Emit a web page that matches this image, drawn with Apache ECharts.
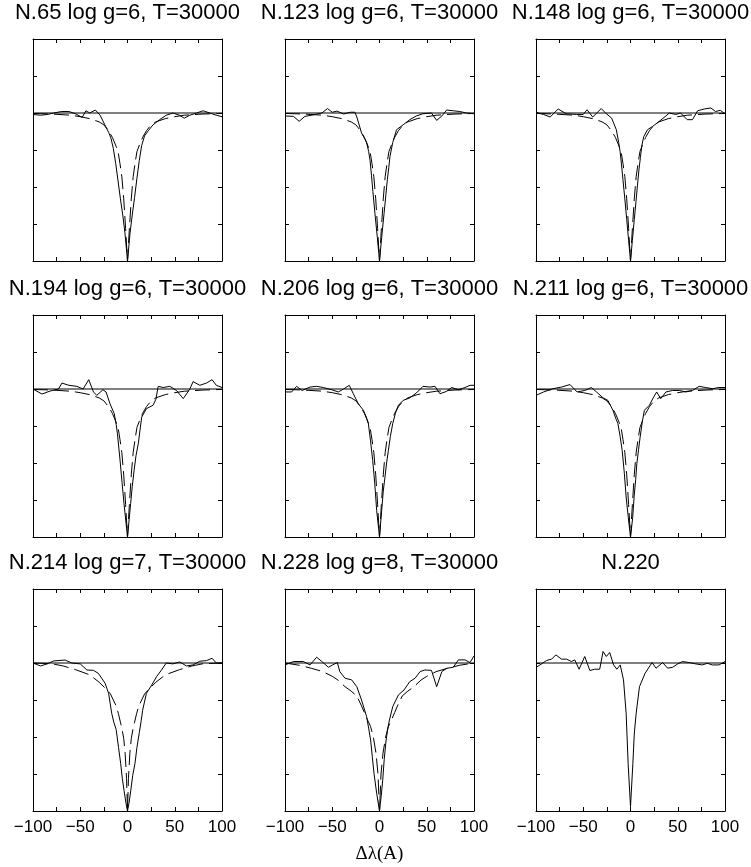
<!DOCTYPE html>
<html><head><meta charset="utf-8">
<script src="https://cdn.jsdelivr.net/npm/echarts@6/dist/echarts.min.js"></script>
<style>html,body{margin:0;padding:0;background:#fff}#c{width:751px;height:867px}</style>
</head><body><div id="c"></div>
<script>
// ---------- data ----------
const titles = ['N.65 log g=6, T=30000','N.123 log g=6, T=30000','N.148 log g=6, T=30000',
                'N.194 log g=6, T=30000','N.206 log g=6, T=30000','N.211 log g=6, T=30000',
                'N.214 log g=7, T=30000','N.228 log g=8, T=30000','N.220'];
const xTickLabels = [-100,-50,0,50,100];
const xAxisName = 'Δλ(A)';
const continuum = [[-100,1],[100,1]];

const modelG6 = [[-100,0.997],[-80,0.993],[-60,0.985],[-50,0.975],[-40,0.962],[-30,0.94],[-25,0.92],[-20,0.88],[-16,0.835],[-13,0.79],[-10,0.74],[-8,0.66],[-6,0.57],[-4,0.42],[-2,0.22],[0,0.0],
  [2,0.22],[4,0.42],[6,0.57],[8,0.66],[10,0.74],[13,0.79],[16,0.835],[20,0.88],[25,0.92],[30,0.94],[40,0.962],[50,0.975],[60,0.985],[80,0.993],[100,0.997]];
const modelG7 = [[-100,1.0],[-80,0.995],[-68,0.98],[-55,0.955],[-40,0.92],[-30,0.87],[-22,0.82],[-18,0.79],[-15,0.75],[-12,0.71],[-9.7,0.66],[-7.5,0.6],[-6,0.56],[-4,0.49],[-2.5,0.39],[-1,0.22],[0,0.0],
  [1,0.22],[2.5,0.39],[4,0.49],[6,0.56],[7.5,0.6],[9.7,0.66],[12,0.71],[15,0.75],[18,0.79],[22,0.82],[30,0.87],[40,0.92],[55,0.955],[68,0.98],[80,0.995],[100,1.0]];
const modelG8 = [[-100,1.0],[-85,0.985],[-72,0.964],[-60,0.942],[-50,0.91],[-44,0.885],[-36.5,0.84],[-30,0.81],[-24,0.777],[-19,0.71],[-16,0.665],[-13,0.62],[-9.4,0.57],[-6.5,0.5],[-3.7,0.39],[-1.6,0.25],[0,0.0],
  [1.6,0.25],[3.7,0.39],[6.5,0.5],[9.4,0.57],[13,0.62],[16,0.665],[19,0.71],[24,0.777],[30,0.81],[36.5,0.84],[44,0.885],[50,0.91],[60,0.942],[72,0.964],[85,0.985],[100,1.0]];

const obsN65 = [[-100,0.99],[-92,0.985],[-85,0.99],[-78,1.0],[-70,1.01],[-62,1.01],[-55,0.995],[-48,0.97],[-44,1.015],[-40,1.0],[-34,1.02],[-29,0.985],[-24,0.92],[-20,0.87],[-17.5,0.83],[-15,0.76],[-12.5,0.66],[-10,0.54],[-7.5,0.42],[-5,0.31],[-2.7,0.19],[0,0.0],
  [2.7,0.19],[5,0.31],[7.5,0.43],[10,0.56],[12.5,0.68],[15,0.78],[18,0.845],[22,0.88],[27,0.92],[34,0.955],[41,0.985],[48,1.0],[55,0.985],[60,0.965],[66,0.985],[73,1.0],[80,1.015],[87,1.0],[94,0.985],[100,0.975]];
const obsN123 = [[-100,0.98],[-91,0.977],[-85,0.944],[-79,0.977],[-72,0.985],[-66,0.993],[-61,1.0],[-55,1.03],[-50,1.005],[-45,1.013],[-38,0.993],[-31,1.005],[-26,1.005],[-24,0.973],[-19,0.865],[-16,0.83],[-13.6,0.8],[-11.5,0.74],[-10,0.68],[-8.5,0.58],[-7,0.47],[-4.8,0.32],[-2.3,0.16],[0,0.0],
  [2.3,0.16],[4.8,0.32],[6.8,0.45],[8.3,0.55],[9.8,0.63],[11.1,0.707],[14,0.8],[18,0.887],[25,0.92],[32,0.955],[39,0.98],[46,0.995],[55,1.0],[60.5,0.95],[66,0.98],[71,1.02],[78,1.015],[85,1.01],[92,1.0],[100,0.995]];
const obsN148 = [[-100,1.005],[-92,0.99],[-85,0.973],[-76.5,1.027],[-68,0.995],[-57,0.99],[-50,0.99],[-46,1.022],[-40,0.973],[-31,1.03],[-25.6,0.995],[-20,0.966],[-15,0.887],[-12.5,0.8],[-11,0.74],[-9.5,0.65],[-8,0.55],[-6,0.42],[-4,0.28],[-2,0.14],[0,0.0],
  [2,0.14],[4,0.28],[5.8,0.4],[7.5,0.52],[9,0.62],[10.5,0.7],[12,0.78],[14,0.84],[18,0.887],[23.5,0.91],[30.5,0.944],[37.5,0.98],[41,1.0],[48,0.99],[53,1.0],[60,0.955],[65.6,0.955],[71,1.015],[78,1.027],[85,1.034],[90,1.01],[95,1.018],[100,0.995]];
const obsN194 = [[-100,1.0],[-90.5,0.966],[-82,0.986],[-73,1.0],[-69.4,1.04],[-62,1.025],[-53.6,1.018],[-47,1.0],[-41,1.063],[-36,0.98],[-32.5,0.957],[-26,0.995],[-22.7,0.98],[-18.5,0.9],[-14,0.833],[-12,0.76],[-10.7,0.7],[-7.9,0.52],[-5.8,0.37],[-3.7,0.225],[0,0.0],
  [3.3,0.225],[5,0.34],[7,0.45],[9,0.55],[11.4,0.63],[15,0.81],[20,0.867],[27,0.89],[30,0.93],[32.5,1.018],[37.8,1.01],[44.8,1.018],[51.8,0.99],[59,0.935],[66,1.0],[69.4,1.05],[76.5,1.025],[83.5,1.04],[89.5,1.063],[94,1.025],[100,1.01]];
const obsN206 = [[-100,0.98],[-93,0.98],[-87.7,1.018],[-82,0.99],[-73.5,1.013],[-66.5,1.018],[-59.4,1.01],[-50.6,0.995],[-43.6,0.98],[-38,1.0],[-32,1.025],[-27.7,0.968],[-22.4,0.9],[-17,0.856],[-14,0.81],[-11.8,0.766],[-9.5,0.65],[-7.2,0.518],[-5,0.36],[-3,0.18],[0,0.0],
  [2.3,0.18],[4,0.31],[5.8,0.405],[7.5,0.5],[9.4,0.585],[11.5,0.68],[14,0.766],[17,0.84],[20,0.89],[25,0.923],[32,0.94],[39,0.973],[46,1.018],[53.5,1.013],[58.7,1.018],[64,0.968],[71,0.984],[76.4,1.01],[83.5,0.995],[90.5,1.01],[95.8,1.025],[100,1.025]];
const obsN211 = [[-100,0.957],[-92,0.98],[-82,1.002],[-73,1.013],[-64,1.03],[-56.5,0.98],[-48.4,0.99],[-41.4,1.01],[-36,0.98],[-29,0.94],[-23.9,0.923],[-18.6,0.856],[-15.5,0.8],[-13.3,0.766],[-11,0.68],[-8.8,0.585],[-6.5,0.43],[-4.6,0.27],[-2.3,0.13],[0,0.0],
  [2.3,0.13],[3.8,0.27],[5.5,0.39],[6.7,0.495],[8.5,0.59],[10.2,0.675],[12.5,0.78],[14.7,0.856],[20,0.89],[24,0.94],[27.7,0.98],[32,0.935],[37.5,0.98],[44.5,0.99],[51.6,0.99],[58.6,0.98],[65.6,0.99],[72.6,1.018],[79.6,1.01],[86.7,1.002],[93.7,1.01],[100,1.01]];
const obsN214 = [[-100,1.0],[-92,0.98],[-85,0.994],[-78,1.014],[-66,1.02],[-59,1.0],[-50,0.994],[-43,0.953],[-36,0.95],[-30.8,0.93],[-23.7,0.863],[-20,0.795],[-16.7,0.66],[-14.5,0.6],[-12,0.55],[-9.5,0.43],[-7.2,0.32],[-5.5,0.22],[-3.7,0.14],[-1.8,0.06],[0,0.0],
  [1.8,0.06],[3.5,0.14],[5.5,0.24],[7.9,0.32],[10,0.43],[12.5,0.53],[14.5,0.61],[16,0.68],[20,0.795],[25.5,0.85],[30.8,0.908],[36,0.953],[41,1.0],[48,0.994],[55.4,1.007],[62.4,0.98],[69.4,0.987],[76.4,1.012],[83.5,1.016],[89.5,1.032],[94,1.0],[100,1.0]];
const obsN228 = [[-100,0.987],[-91,1.01],[-80.6,1.01],[-73.5,0.987],[-66.5,1.039],[-61,1.01],[-54,0.971],[-49.6,0.987],[-44.6,1.003],[-42,0.942],[-36.5,0.897],[-29.5,0.886],[-24,0.84],[-19,0.75],[-13.6,0.637],[-11.5,0.56],[-9.4,0.479],[-7.5,0.36],[-5.8,0.253],[-3,0.12],[0,0.0],
  [1.8,0.1],[3.4,0.208],[5,0.35],[7,0.479],[8.8,0.56],[10.5,0.614],[14,0.705],[20,0.784],[26,0.818],[32,0.874],[37.6,0.897],[43,0.942],[48,0.953],[55,0.95],[60.5,0.84],[66,0.942],[71,0.964],[78,0.971],[83.5,1.021],[90.5,1.021],[95.8,1.003],[100,1.048]];
const obsN220 = [[-100,0.971],[-95.8,0.987],[-88.8,1.017],[-83.5,1.026],[-79,1.055],[-73,1.026],[-67.7,1.026],[-62.5,1.01],[-59,1.021],[-54.4,0.958],[-48.4,1.044],[-43,0.949],[-38,0.958],[-32.6,0.958],[-29,1.078],[-25.6,1.044],[-22,1.071],[-17.9,0.987],[-14.4,0.958],[-10.9,0.987],[-7.4,0.886],[-4.6,0.66],[-2.5,0.32],[0,0.03],
  [2.5,0.32],[4,0.52],[6,0.66],[9.5,0.84],[15.4,0.93],[22.8,1.003],[27,0.965],[34,1.003],[39.3,0.965],[44.6,0.971],[50,0.994],[55,1.01],[62,1.003],[69,0.994],[76,0.987],[81.4,0.998],[86.7,0.987],[93.7,0.987],[100,1.01]];

const observed = [obsN65, obsN123, obsN148, obsN194, obsN206, obsN211, obsN214, obsN228, obsN220];
const models = [modelG6, modelG6, modelG6, modelG6, modelG6, modelG6, modelG7, modelG8, null];

// ---------- layout ----------
const colLeft = [33, 285, 536];
const rowTop = [39, 315, 589];
const W = 189, H = 222;

const grid = [], xAxis = [], yAxis = [], series = [], title = [];
const line = {show: true, onZero: false, lineStyle: {color: '#000', width: 1}};
const tick = {show: true, inside: true, length: 4, lineStyle: {color: '#000', width: 1}};
const fmt = v => xTickLabels.includes(v) ? (v < 0 ? '\u2212' + (-v) : String(v)) : '';

for (let i = 0; i < 9; i++) {
  const r = Math.floor(i / 3), c = i % 3;
  grid.push({left: colLeft[c], top: rowTop[r], width: W, height: H, containLabel: false});
  title.push({
    text: titles[i], left: colLeft[c] + W / 2, top: rowTop[r] - 37, textAlign: 'center', padding: 0,
    textStyle: {fontSize: 22, fontWeight: 'normal', fontFamily: 'Liberation Sans', color: '#000'}
  });
  const bottomX = {
    type: 'value', gridIndex: i, position: 'bottom', min: -100, max: 100, interval: 25,
    axisLine: line, axisTick: tick, splitLine: {show: false},
    axisLabel: {show: r === 2, formatter: fmt, margin: 8, fontSize: 17, color: '#000', fontFamily: 'Liberation Sans'}
  };
  if (r === 2 && c === 1) {
    bottomX.name = xAxisName;
    bottomX.nameLocation = 'middle';
    bottomX.nameGap = 34;
    bottomX.nameTextStyle = {fontFamily: 'Liberation Serif', fontSize: 19, color: '#000'};
  }
  xAxis.push(bottomX);
  xAxis.push({type: 'value', gridIndex: i, position: 'top', min: -100, max: 100, interval: 25,
    axisLine: line, axisTick: tick, axisLabel: {show: false}, splitLine: {show: false}});
  yAxis.push({type: 'value', gridIndex: i, position: 'left', min: 0, max: 1.5, interval: 0.25,
    axisLine: line, axisTick: tick, axisLabel: {show: false}, splitLine: {show: false}});
  yAxis.push({type: 'value', gridIndex: i, position: 'right', min: 0, max: 1.5, interval: 0.25,
    axisLine: line, axisTick: tick, axisLabel: {show: false}, splitLine: {show: false}});

  const xi = 2 * i, yi = 2 * i;
  series.push({type: 'line', xAxisIndex: xi, yAxisIndex: yi, data: continuum, showSymbol: false, silent: true,
    lineStyle: {color: '#000', width: 1}});
  series.push({type: 'line', xAxisIndex: xi, yAxisIndex: yi, data: observed[i], showSymbol: false, silent: true,
    lineStyle: {color: '#000', width: 1}});
  if (models[i]) {
    series.push({type: 'line', xAxisIndex: xi, yAxisIndex: yi, data: models[i], showSymbol: false, silent: true,
      lineStyle: {color: '#000', width: 1, type: [15, 6]}});
  }
}

const chart = echarts.init(document.getElementById('c'), null, {renderer: 'canvas'});
chart.setOption({backgroundColor: '#fff', animation: false, title, grid, xAxis, yAxis, series});
</script>
</body></html>
